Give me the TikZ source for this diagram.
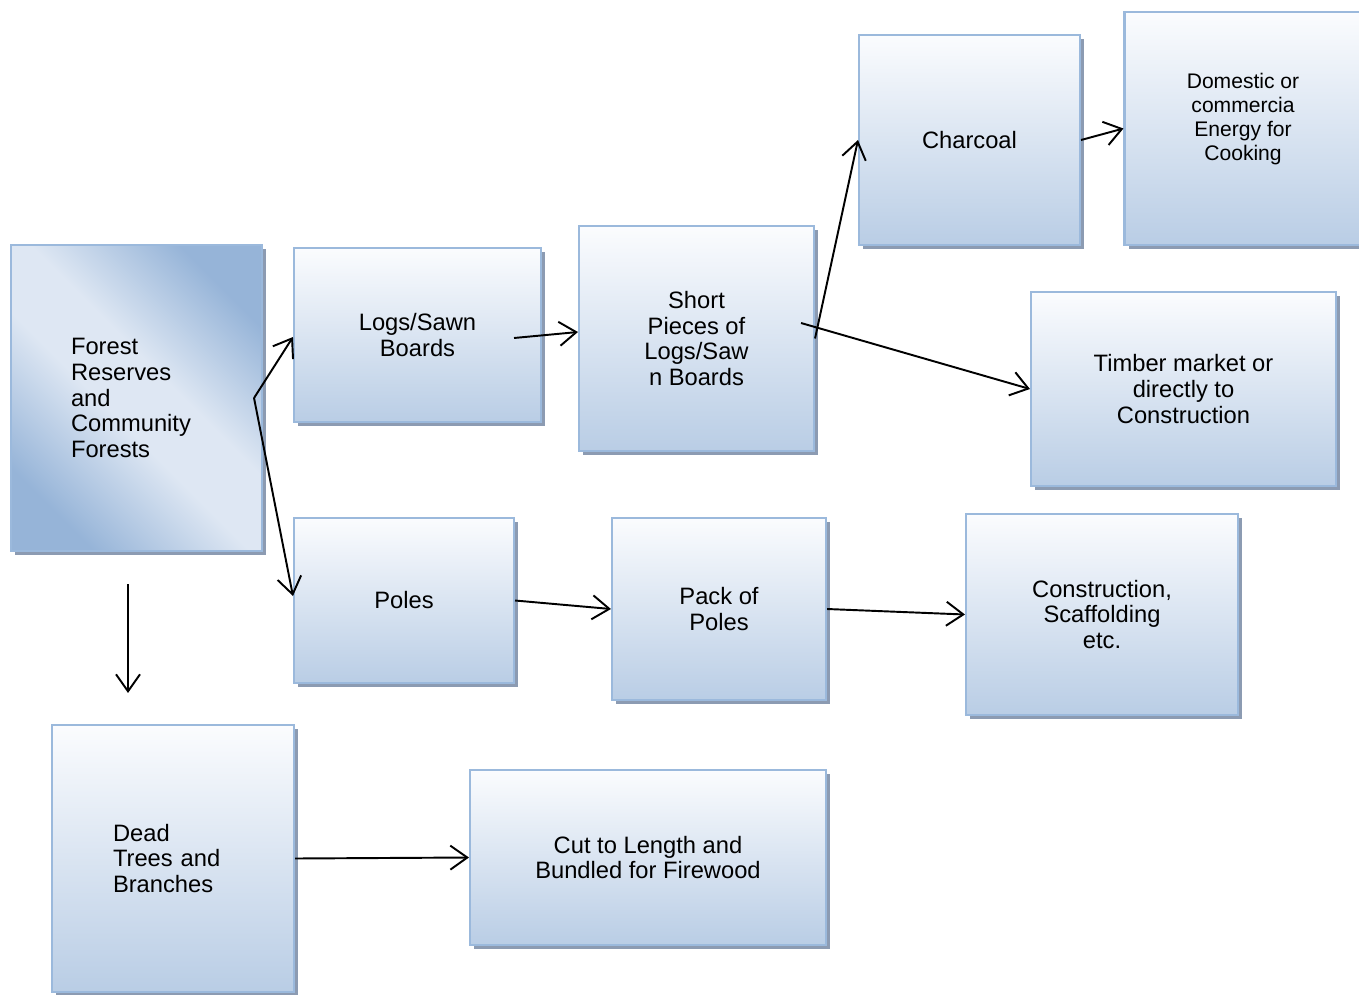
\documentclass[tikz,border=0pt]{standalone}
\usepackage{fontspec}
\setmainfont{Liberation Sans}
\usetikzlibrary{positioning, calc, shadows, arrows.meta}

\definecolor{boxtop}{RGB}{251,252,254}
\definecolor{boxbot}{RGB}{185,205,229}
\definecolor{boxline}{RGB}{155,185,220}
\definecolor{boxdark}{RGB}{150,180,216}
\definecolor{boxlight}{RGB}{222,231,243}
\definecolor{shadowc}{RGB}{140,155,178}
\pgfdeclarehorizontalshading{forestshade}{100bp}{color(0bp)=(boxdark); color(25bp)=(boxdark); color(45bp)=(boxlight); color(56bp)=(boxlight); color(75bp)=(boxdark); color(100bp)=(boxdark)}

\begin{document}
\begin{tikzpicture}[x=0.02cm, y=-0.02cm, >={Straight Barb[length=3.4mm,width=4.8mm]}]
        \tikzstyle{stage}=[draw=boxline, line width=1.2pt, rectangle, top color=boxtop, bottom color=boxbot, drop shadow={shadow xshift=.08cm, shadow yshift=-.08cm, fill=shadowc, opacity=1}, font=\fontsize{13.5}{14.6}\selectfont, align=center, inner sep=0pt];
        \tikzstyle{flow}=[->, line width=1.1pt];
        \useasboundingbox (0,0) rectangle (1359,994);

        \node[stage, shading=forestshade, shading angle=45, align=left, text width=2.62cm, minimum width=5.02cm, minimum height=6.12cm] (forest) at (136.5,398) {Forest\\Reserves\\and\\Community\\Forests};
        \node[stage, minimum width=4.94cm, minimum height=3.48cm] (logs) at (417.5,335) {Logs/Sawn\\Boards};
        \node[stage, minimum width=4.70cm, minimum height=4.50cm] (short) at (696.5,338.5) {Short\\Pieces of\\Logs/Saw\\n Boards};
        \node[stage, minimum width=4.42cm, minimum height=4.20cm] (charcoal) at (969.5,140) {Charcoal};
        \node[stage, minimum width=4.74cm, minimum height=4.66cm, font=\fontsize{12}{13.6}\selectfont] (domestic) at (1243,128.5) {Domestic or\\commercia\\Energy for\\Cooking\\\mbox{}};
        \node[stage, minimum width=6.10cm, minimum height=3.88cm] (timber) at (1183.5,389) {Timber market or\\directly to\\Construction};
        \node[stage, minimum width=4.40cm, minimum height=3.30cm] (poles) at (404,600.5) {Poles};
        \node[stage, minimum width=4.28cm, minimum height=3.64cm] (pack) at (719,609) {Pack of\\Poles};
        \node[stage, minimum width=5.44cm, minimum height=4.02cm] (construct) at (1102,614.5) {Construction,\\Scaffolding\\etc.};
        \node[stage, align=left, text width=2.4cm, minimum width=4.84cm, minimum height=5.34cm] (dead) at (173,858.5) {Dead\\Trees and\\Branches};
        \node[stage, minimum width=7.12cm, minimum height=3.50cm] (cut) at (648,857.5) {Cut to Length and\\Bundled for Firewood};

        \path[flow]
        ([xshift=-0.18cm]forest.east) edge ([yshift=-0.04cm]logs.west)
        ([xshift=-0.18cm]forest.east) edge ([yshift=0.09cm]poles.west)
        ([xshift=-0.17cm,yshift=-0.64cm]forest.south) edge ([xshift=-0.9cm,yshift=0.62cm]dead.north)
        ([xshift=-0.56cm,yshift=-0.06cm]logs.east) edge ([yshift=0.13cm]short.west)
        (short.east) edge (charcoal.west)
        ([xshift=-0.28cm,yshift=0.31cm]short.east) edge (timber.west)
        (charcoal.east) edge (domestic.west)
        (poles.east) edge (pack.west)
        (pack.east) edge (construct.west)
        (dead.east) edge (cut.west);
      \end{tikzpicture}
\end{document}
